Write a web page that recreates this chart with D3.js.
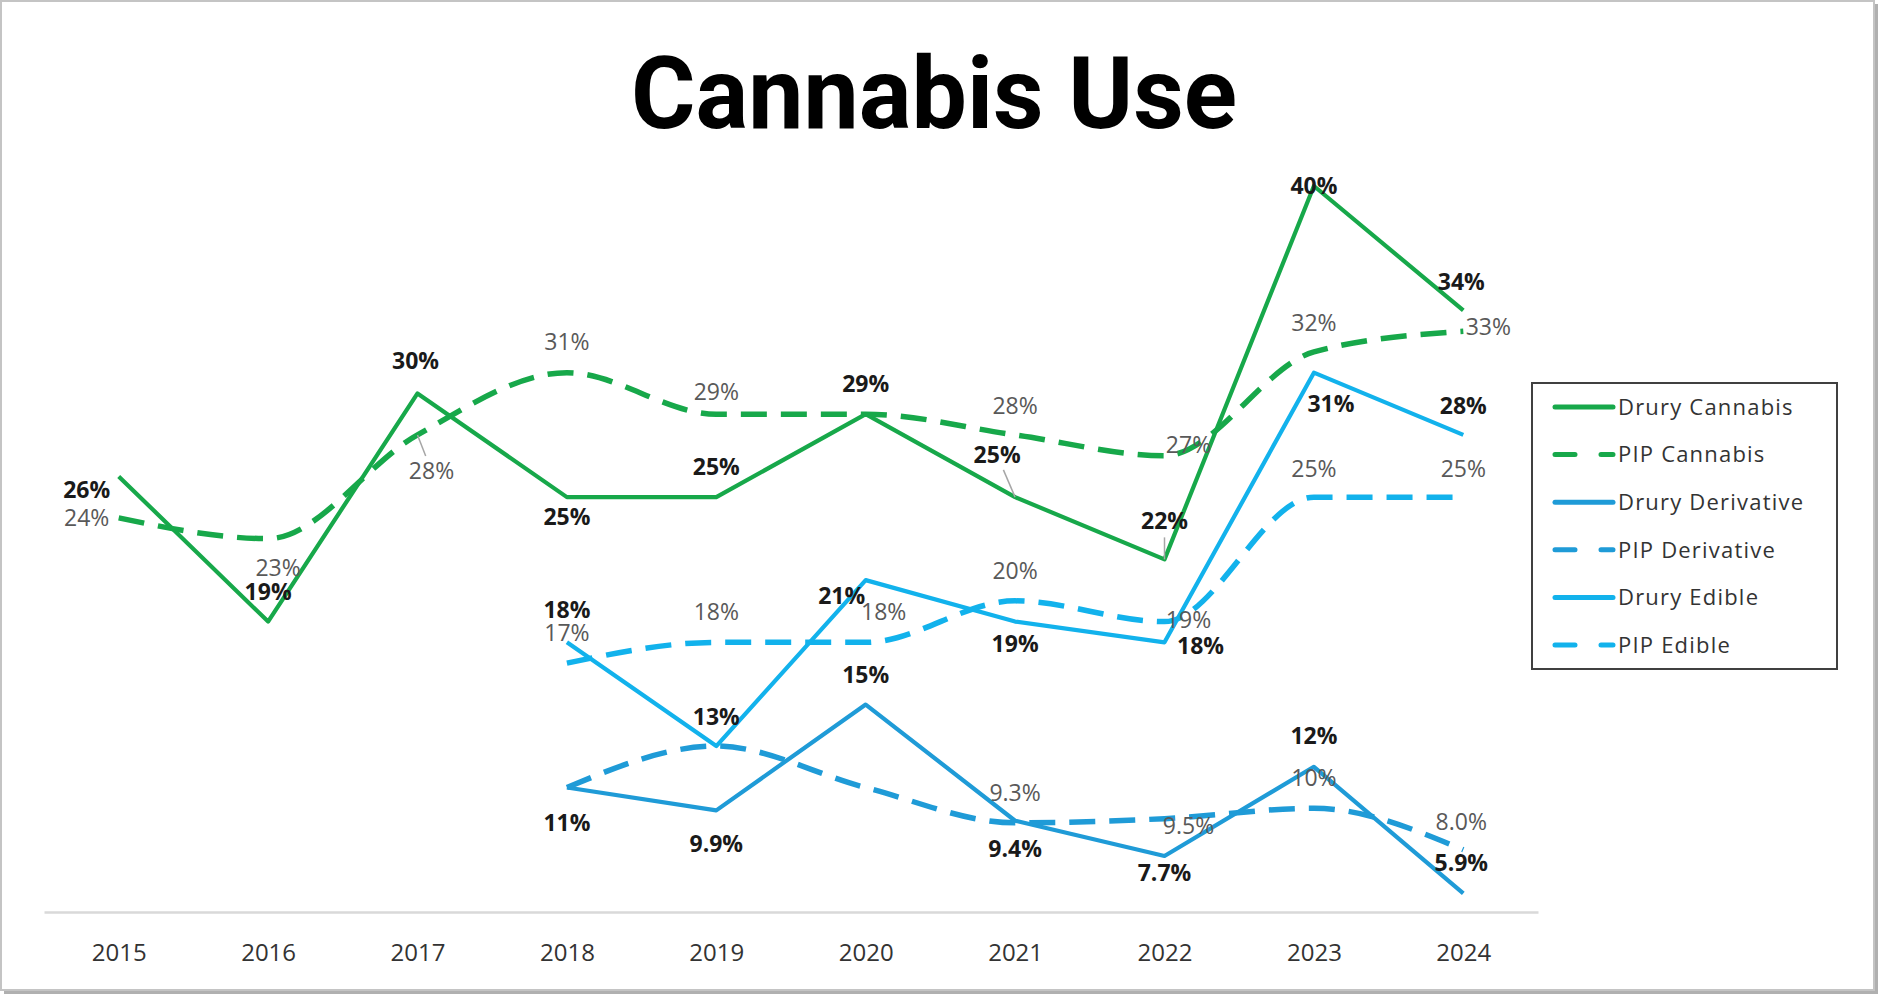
<!DOCTYPE html>
<html>
<head>
<meta charset="utf-8">
<script src="https://cdn.jsdelivr.net/npm/d3@7"></script>
<style>
  html, body { margin: 0; padding: 0; background: #fff; }
  svg text { font-family: "Open Sans", sans-serif; }
</style>
</head>
<body>
<svg id="chart" width="1881" height="997"></svg>
<script>
var years = [2015, 2016, 2017, 2018, 2019, 2020, 2021, 2022, 2023, 2024];

var druryCannabis   = [26, 19, 30, 25, 25, 29, 25, 22, 40, 34];
var pipCannabis     = [24, 23, 28, 31, 29, 29, 28, 27, 32, 33];
var druryDerivative = [null, null, null, 11, 9.9, 15, 9.4, 7.7, 12, 5.9];
var pipDerivative   = [null, null, null, 11, 13, 11, 9.3, 9.5, 10, 8.0];
var druryEdible     = [null, null, null, 18, 13, 21, 19, 18, 31, 28];
var pipEdible       = [null, null, null, 17, 18, 18, 20, 19, 25, 25];

var seriesNames = ["Drury Cannabis", "PIP Cannabis", "Drury Derivative",
                   "PIP Derivative", "Drury Edible", "PIP Edible"];

// label nudges, [dx, dy] in px from the point, null = label hidden
var labelNudge = [
  [[-32, 14], [0, -30], [-2, -32], [0, 20], [0, -30], [0, -30], [-18, -42], [0, -38], [0, 0], [-2, -29]],
  [[-32, 0], [10, 29], [14, 36], [0, -31], [0, -22], null, [0, -29], [24, -11], [0, -29], [25, -4]],
  [null, null, null, [0, 35], [0, 34], [0, -30], [0, 28], [0, 17], [0, -31], [-2, -30]],
  [null, null, null, null, null, null, [0, -30], [24, 7], [0, -30], [-2, -28]],
  [null, null, null, [0, -32], [0, -29], [-24, 16], [0, 22], [36, 4], [17, 31], [0, -29]],
  [null, null, null, [0, -30], [0, -30], [18, -30], [0, -30], [24, -2], [0, -28], [0, -28]]
];

var green = "#17a84a", deriv = "#1f9bd7", edible = "#12b2ec";
var colors = [green, green, deriv, deriv, edible, edible];
var dashed = [false, true, false, true, false, true];

var allValues = [druryCannabis, pipCannabis, druryDerivative, pipDerivative, druryEdible, pipEdible];

var svg = d3.select("#chart");

// outer frame with a little shadow
svg.append("rect").attr("x", 4).attr("y", 4).attr("width", 1874).attr("height", 990)
  .attr("fill", "#b0b0b0");
svg.append("rect").attr("x", 1).attr("y", 1).attr("width", 1873).attr("height", 989)
  .attr("fill", "#fff").attr("stroke", "#c4c4c4").attr("stroke-width", 2);

svg.append("text")
  .attr("x", 934).attr("y", 128)
  .attr("text-anchor", "middle")
  .attr("textLength", 606).attr("lengthAdjust", "spacingAndGlyphs")
  .style("font-family", "Roboto, sans-serif")
  .style("font-weight", 700)
  .style("font-size", "100px")
  .attr("fill", "#000")
  .text("Cannabis Use");

var x = d3.scalePoint().domain(years).range([44, 1538]).padding(0.5);
var y = d3.scaleLinear().domain([5, 40]).range([912, 186]);

// x axis
var xAxis = svg.append("g").attr("transform", "translate(0,912)")
  .call(d3.axisBottom(x).tickSize(0).tickPadding(32));
xAxis.select(".domain").attr("stroke", "#d9d9d9").attr("stroke-width", 2.5);
xAxis.selectAll("text")
  .style("font-family", "'Open Sans', sans-serif")
  .style("font-size", "24px")
  .attr("fill", "#333");

var line = d3.line()
  .defined(d => d.v != null)
  .x(d => x(d.year))
  .y(d => y(d.v));

var series = allValues.map((vals, i) => ({
  name: seriesNames[i],
  color: colors[i],
  dashed: dashed[i],
  pts: vals.map((v, j) => ({ year: years[j], v: v, nudge: labelNudge[i][j] }))
}));

var lines = svg.append("g");
series.forEach(s => {
  lines.append("path")
    .datum(s.pts.filter(p => p.v != null))
    .attr("d", line.curve(s.dashed ? d3.curveMonotoneX : d3.curveLinear))
    .attr("fill", "none")
    .attr("stroke", s.color)
    .attr("stroke-width", s.dashed ? 5.5 : 4.2)
    .attr("stroke-dasharray", s.dashed ? "26 14" : null)
    .attr("stroke-linejoin", "round");
});

function fmt(v) {
  return (v < 10 ? d3.format(".1f")(v) : d3.format(".0f")(v)) + "%";
}

// leader lines for labels pulled far from their point
var leaders = svg.append("g");
series.forEach(s => {
  s.pts.filter(p => p.v != null && p.nudge && Math.hypot(p.nudge[0], p.nudge[1]) > 37.5)
    .forEach(p => {
      var px = x(p.year), py = y(p.v);
      var len = Math.hypot(p.nudge[0], p.nudge[1]);
      var k = (len - 16) / len;
      leaders.append("line")
        .attr("x1", px).attr("y1", py)
        .attr("x2", px + p.nudge[0] * k).attr("y2", py + p.nudge[1] * k)
        .attr("stroke", "#a6a6a6").attr("stroke-width", 1.5);
    });
});

var labels = svg.append("g");
series.forEach(s => {
  labels.selectAll(null)
    .data(s.pts.filter(p => p.v != null && p.nudge))
    .enter().append("text")
    .attr("x", p => x(p.year) + p.nudge[0])
    .attr("y", p => y(p.v) + p.nudge[1])
    .attr("dy", "0.35em")
    .attr("text-anchor", "middle")
    .style("font-size", "23px")
    .style("font-weight", s.dashed ? 400 : 700)
    .attr("fill", s.dashed ? "#595959" : "#1a1a1a")
    .text(p => fmt(p.v));
});

// legend
var legend = svg.append("g");
legend.append("rect").attr("x", 1532).attr("y", 383).attr("width", 305).attr("height", 286)
  .attr("fill", "#fff").attr("stroke", "#404040").attr("stroke-width", 2);
series.forEach((s, i) => {
  var ly = 407 + i * 47.6;
  legend.append("line")
    .attr("x1", 1555).attr("x2", 1613).attr("y1", ly).attr("y2", ly)
    .attr("stroke", s.color).attr("stroke-width", 5)
    .attr("stroke-linecap", "round")
    .attr("stroke-dasharray", s.dashed ? "20 26" : null);
  legend.append("text")
    .attr("x", 1618).attr("y", ly).attr("dy", "0.35em")
    .style("font-size", "22px")
    .style("letter-spacing", "1.2px")
    .attr("fill", "#333")
    .text(s.name);
});
</script>
</body>
</html>
